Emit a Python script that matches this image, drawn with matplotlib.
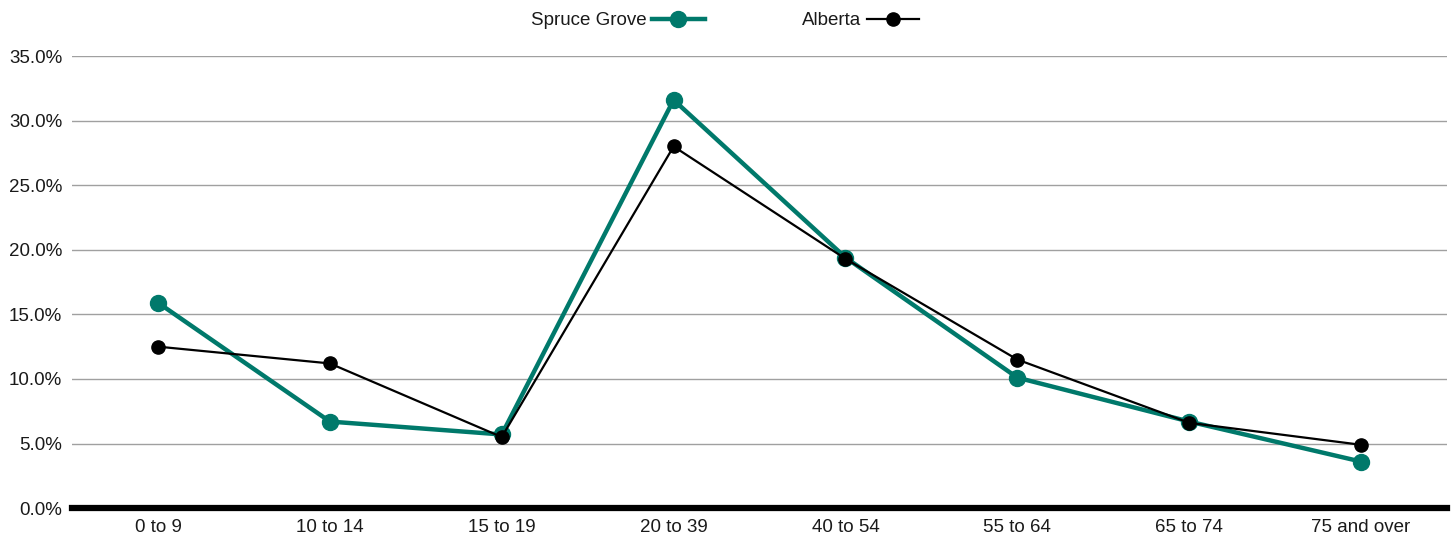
import matplotlib.pyplot as plt
from matplotlib.ticker import FuncFormatter

age_groups = ["0 to 9", "10 to 14", "15 to 19", "20 to 39", "40 to 54",
              "55 to 64", "65 to 74", "75 and over"]
spruce_grove = [15.9, 6.7, 5.7, 31.6, 19.4, 10.1, 6.7, 3.6]
alberta = [12.5, 11.2, 5.5, 28.0, 19.3, 11.5, 6.6, 4.9]

plt.rcParams['font.family'] = ['Liberation Sans Narrow', 'Liberation Sans', 'DejaVu Sans']

fig = plt.figure(figsize=(14.53, 5.44), dpi=100)
ax = fig.add_axes([0.0496, 0.066, 0.9463, 0.831])

x = range(len(age_groups))
ax.plot(x, spruce_grove, color="#00796B", lw=3.2, marker="o", ms=11.5,
        label="Spruce Grove", zorder=3)
ax.plot(x, alberta, color="black", lw=1.6, marker="o", ms=9.5,
        label="Alberta", zorder=4)

ax.set_xlim(-0.5, len(age_groups) - 0.5)
ax.set_ylim(0, 35)
ax.set_yticks(range(0, 36, 5))
ax.yaxis.set_major_formatter(FuncFormatter(lambda v, p: f"{v:.1f}%"))
ax.set_xticks(list(x))
ax.set_xticklabels(age_groups)
ax.grid(axis="y", color="#a0a0a0", lw=1.0)
ax.set_axisbelow(True)
for s in ["top", "right", "left"]:
    ax.spines[s].set_visible(False)
ax.spines["bottom"].set_linewidth(4.5)
ax.spines["bottom"].set_zorder(5)
ax.tick_params(length=0, labelsize=13.5, colors="#1a1a1a", pad=8)
ax.tick_params(axis="y", pad=7)

ax.legend(loc="center", bbox_to_anchor=(0.475, 1.078), ncol=2, frameon=False,
          markerfirst=False, fontsize=13.5, handlelength=2.8,
          columnspacing=5.2, handletextpad=0.3, borderaxespad=0,
          labelcolor="#1a1a1a")

fig.savefig("out.png", dpi=100)
